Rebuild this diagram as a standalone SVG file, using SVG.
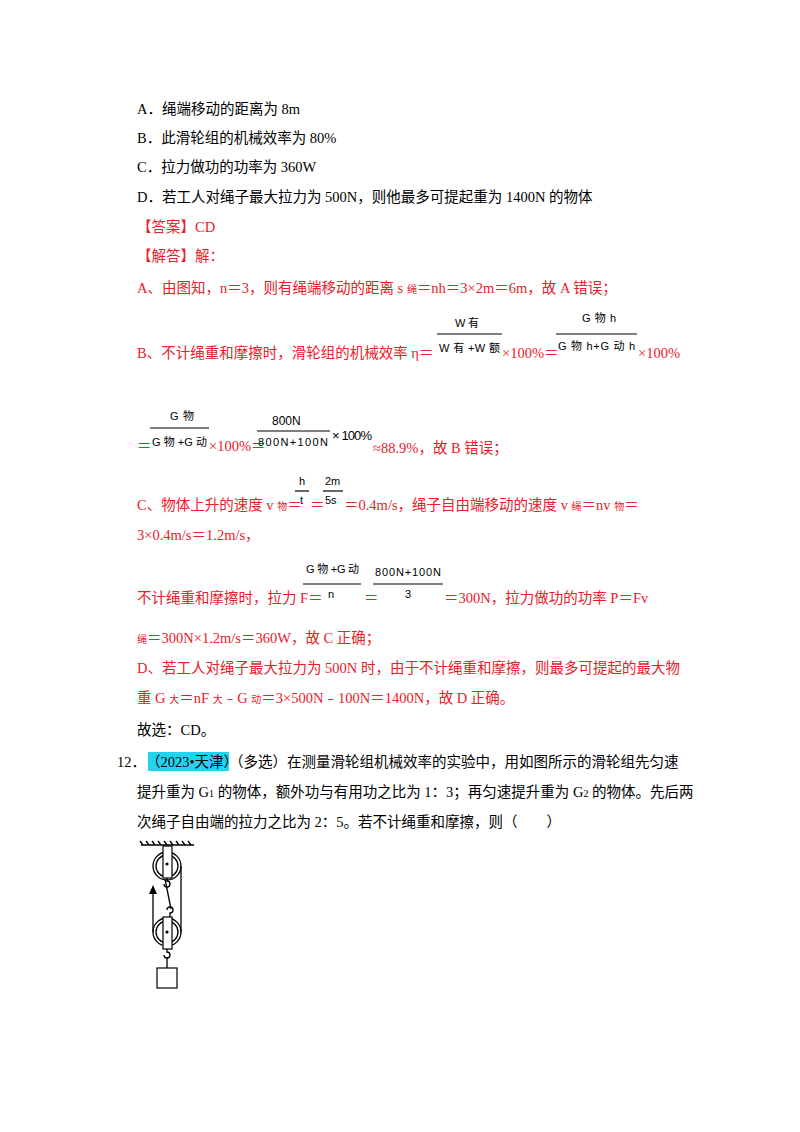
<svg xmlns="http://www.w3.org/2000/svg" width="800" height="1132" viewBox="0 0 800 1132">
<style>
text{font-family:"Liberation Serif","Noto Sans CJK SC",serif;font-size:14.5px}
.r{fill:#e8202a}
.k{fill:#000}
.m{font-family:"Liberation Sans","Noto Sans CJK SC",sans-serif;font-size:11px;fill:#000}
.s{font-size:10px}
.ln{stroke:#000;stroke-width:1.2}
.p{fill:none;stroke:#000;stroke-width:1.3}
</style>
<rect width="800" height="1132" fill="#fff"/>
<g id="options">
<text class="k" x="137" y="114">A．绳端移动的距离为 8m</text>
<text class="k" x="137" y="143">B．此滑轮组的机械效率为 80%</text>
<text class="k" x="137" y="172">C．拉力做功的功率为 360W</text>
<text class="k" x="137" y="202">D．若工人对绳子最大拉力为 500N，则他最多可提起重为 1400N 的物体</text>
<text class="r" x="137" y="232">【答案】CD</text>
<text class="r" x="137" y="261">【解答】解：</text>
<text class="r" x="137" y="293">A、由图知，n＝3，则有绳端移动的距离 s <tspan class="s">绳</tspan>＝nh＝3×2m＝6m，故 A 错误；</text>
</g>
<g id="lineB">
<text class="r" x="137" y="358">B、不计绳重和摩擦时，滑轮组的机械效率 η＝</text>
<text class="m" x="455" y="327" textLength="24">W 有</text>
<line class="ln" x1="437" y1="334" x2="502" y2="334"/>
<text class="m" x="439" y="352" textLength="61">W 有 +W 额</text>
<text class="r" x="502" y="358">×100%＝</text>
<text class="m" x="582" y="322" textLength="34">G 物 h</text>
<line class="ln" x1="556" y1="334" x2="637" y2="334"/>
<text class="m" x="558" y="350" textLength="77">G 物 h+G 动 h</text>
<text class="r" x="638" y="358">×100%</text>
<text class="r" x="137" y="451">＝</text>
<text class="m" x="170" y="420" textLength="24">G 物</text>
<line class="ln" x1="150" y1="428" x2="209" y2="428"/>
<text class="m" x="152" y="446" textLength="55">G 物 +G 动</text>
<text class="r" x="209" y="451">×100%＝</text>
<text class="m" x="272" y="425" style="font-size:12px">800N</text>
<line class="ln" x1="257" y1="431" x2="330" y2="431"/>
<text class="m" x="258" y="446" textLength="70">800N+100N</text>
<text class="m" x="332" y="440" style="font-size:13px" textLength="40">× 100%</text>
<text class="r" x="373" y="453">≈88.9%，故 B 错误；</text>
</g>
<g id="lineC">
<text class="r" x="137" y="510">C、物体上升的速度 v <tspan class="s">物</tspan>＝</text>
<text class="m" x="299" y="485">h</text>
<line class="ln" x1="295" y1="491" x2="309" y2="491"/>
<text class="m" x="300" y="504">t</text>
<text class="r" x="310" y="510">＝</text>
<text class="m" x="325" y="485">2m</text>
<line class="ln" x1="323" y1="491" x2="343" y2="491"/>
<text class="m" x="325" y="504">5s</text>
<text class="r" x="344" y="510">＝0.4m/s，绳子自由端移动的速度 v <tspan class="s">绳</tspan>＝nv <tspan class="s">物</tspan>＝</text>
<text class="r" x="137" y="540">3×0.4m/s＝1.2m/s，</text>
<text class="r" x="137" y="603">不计绳重和摩擦时，拉力 F＝</text>
<text class="m" x="306" y="573" textLength="53">G 物 +G 动</text>
<line class="ln" x1="303" y1="584" x2="361" y2="584"/>
<text class="m" x="328" y="598">n</text>
<text class="r" x="364" y="603">＝</text>
<text class="m" x="375" y="576" textLength="66">800N+100N</text>
<line class="ln" x1="373" y1="584" x2="443" y2="584"/>
<text class="m" x="405" y="598">3</text>
<text class="r" x="444" y="603">＝300N，拉力做功的功率 P＝Fv</text>
<text class="r" x="137" y="643"><tspan class="s">绳</tspan>＝300N×1.2m/s＝360W，故 C 正确；</text>
</g>
<g id="lineD">
<text class="r" x="137" y="673">D、若工人对绳子最大拉力为 500N 时，由于不计绳重和摩擦，则最多可提起的最大物</text>
<text class="r" x="137" y="703">重 G <tspan class="s">大</tspan>＝nF <tspan class="s">大</tspan>﹣G <tspan class="s">动</tspan>＝3×500N﹣100N＝1400N，故 D 正确。</text>
<text class="k" x="137" y="735">故选：CD。</text>
</g>
<g id="q12">
<text class="k" x="117" y="767">12．</text>
<rect x="148" y="752" width="81" height="19" fill="#22d3ee"/>
<text class="k" x="146" y="767">（2023•天津）</text>
<text class="k" x="229" y="767">（多选）在测量滑轮组机械效率的实验中，用如图所示的滑轮组先匀速</text>
<text class="k" x="137" y="797">提升重为 G<tspan class="s">1</tspan> 的物体，额外功与有用功之比为 1：3；再匀速提升重为 G<tspan class="s">2</tspan> 的物体。先后两</text>
<text class="k" x="137" y="827">次绳子自由端的拉力之比为 2：5。若不计绳重和摩擦，则（　　）</text>
</g>
<g id="pulley">
<line class="p" x1="141" y1="845" x2="194" y2="845"/>
<path class="p" d="M143 845l-3 -4M149 845l-3 -4M155 845l-3 -4M161 845l-3 -4M167 845l-3 -4M173 845l-3 -4M179 845l-3 -4M185 845l-3 -4M191 845l-3 -4" stroke-width="0.8"/>
<circle class="p" cx="167" cy="866" r="14"/>
<circle class="p" cx="167" cy="866" r="11"/>
<rect x="163" y="846" width="9" height="32" fill="#fff" stroke="#000" stroke-width="1.2"/>
<circle cx="167" cy="864" r="1.6"/>
<path class="p" d="M167 878v3a3 3 0 1 1 -3 3"/>
<circle class="p" cx="167" cy="932" r="14"/>
<circle class="p" cx="167" cy="932" r="11"/>
<path class="p" d="M170 917v-4a3 3 0 1 0 -3 -3"/>
<rect x="163" y="917" width="9" height="32" fill="#fff" stroke="#000" stroke-width="1.2"/>
<circle cx="167" cy="932" r="1.6"/>
<path class="p" d="M167 949v3a3 3 0 1 1 -3 3"/>
<line class="p" x1="167" y1="958" x2="167" y2="968"/>
<rect x="157" y="968" width="20" height="20" fill="#fff" stroke="#000" stroke-width="1.2"/>
<line class="p" x1="165" y1="879" x2="171" y2="909"/>
<line class="p" x1="181" y1="866" x2="181" y2="932"/>
<line class="p" x1="153" y1="893" x2="153" y2="932"/>
<path d="M153 885l-4 9h8z" fill="#000"/>
</g>
</svg>
